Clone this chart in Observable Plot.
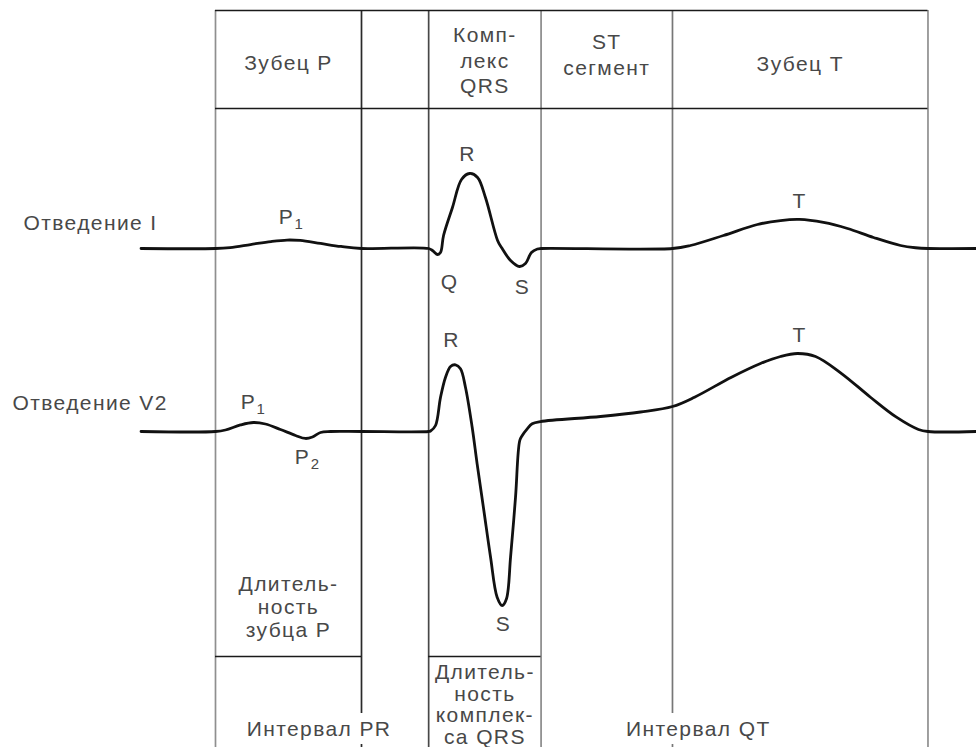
<!DOCTYPE html>
<html>
<head>
<meta charset="utf-8">
<script src="https://cdn.jsdelivr.net/npm/d3@7"></script>
<script src="https://cdn.jsdelivr.net/npm/@observablehq/plot@0.6"></script>
<style>
  html, body { margin: 0; padding: 0; background: #fff; overflow: hidden; }
</style>
</head>
<body>
<div id="chart"></div>
<script>
// ---------------- DATA ----------------
// Leads (row names)
const leadNames = ["Отведение I", "Отведение V2"];

// Table columns (time, ms)
const segmentNames = ["Зубец P", "", "Комп-\nлекс\nQRS", "ST\nсегмент", "Зубец T"];
const segmentBounds = [0, 100, 146, 223, 313, 488];

// Duration boxes (below the traces) and intervals
const durationNames = ["Длитель-\nность\nзубца P", "Длитель-\nность\nкомплек-\nса QRS"];
const durationSegment = [0, 2];
const intervalNames = ["Интервал PR", "Интервал QT"];
const intervalStart = [0, 146];
const intervalEnd = [146, 488];

// Lead I trace: time (ms), amplitude (mV)
const leadI_t = [-51, 0, 10, 24, 38, 49, 58, 72, 86, 100,
  146, 148.6, 152, 154.1, 156.2, 162.3, 168.5, 174, 179.5, 184.9,
  193.2, 195.9, 202.1, 208.2, 212.3, 216.4, 220.5, 223,
  313, 325.3, 347.9, 371.2, 387, 400, 416.4, 432.9, 450.7, 469.2,
  479.5, 488, 521];
const leadI_mv = [0, 0, 0.013, 0.053, 0.093, 0.113, 0.107, 0.067, 0.027, 0,
  0, -0.027, -0.08, -0.053, 0.173, 0.547, 0.92, 1.0, 0.947, 0.68,
  0.107, 0.013, -0.16, -0.24, -0.2, -0.053, -0.007, 0,
  0, 0.04, 0.173, 0.32, 0.373, 0.387, 0.347, 0.267, 0.147, 0.04,
  0.01, 0, 0];

// Lead V2 trace: time (ms), amplitude (mV)
const leadV2_t = [-51, 0, 6.8, 17.1, 26, 34.2, 44.5, 54.8, 61.6, 66.4,
  71.9, 78.8, 100, 146, 147.3, 150.7, 154.1, 157.5, 161, 164.4,
  167.8, 171.2, 175.8, 179.2, 183.8, 188.4, 192.9, 196.4, 199.3, 202.1,
  205.5, 208.4, 210.1, 213.5, 216.9, 222.6, 263.7, 291.1, 313, 328.1,
  353.4, 373.3, 387, 398.6, 411, 428.8, 448.6, 466.4, 481.5, 488,
  521];
const leadV2_mv = [0, 0, 0.02, 0.087, 0.12, 0.1, 0.027, -0.053, -0.093, -0.073,
  -0.013, 0, 0, 0, 0.007, 0.08, 0.453, 0.72, 0.867, 0.889,
  0.836, 0.591, 0.057, -0.431, -1.053, -1.676, -2.209, -2.32, -2.231, -1.676,
  -0.876, -0.12, -0.053, 0.036, 0.103, 0.133, 0.2, 0.26, 0.333, 0.457,
  0.724, 0.907, 1.0, 1.04, 1.0, 0.773, 0.457, 0.191, 0.027, 0,
  0];

// Wave labels
const labelLead = [0, 0, 0, 0, 0, 1, 1, 1, 1, 1];
const labelText = ["P", "R", "Q", "S", "T", "P", "P", "R", "S", "T"];
const labelSub  = ["1", "", "", "", "", "1", "2", "", "", ""];
const labelT    = [48.6, 172.6, 160.3, 210.3, 400, 22.6, 59.6, 161.6, 197.3, 400];
const labelMv   = [0.413, 1.253, -0.453, -0.52, 0.627, 0.387, -0.347, 1.213, -2.573, 1.28];

// ---------------- LAYOUT ----------------
const W = 976, H = 747;
const PX_PER_MS = 1.46, T0_PX = 215;       // time axis: px per ms, px of t=0
const PX_PER_MV = 75, BASE_PX = [248, 431]; // amplitude: px per mV, baseline px of each lead
const yOf = px => (BASE_PX[0] - px) / PX_PER_MV;   // px (from top) -> y value
const tOf = px => (px - T0_PX) / PX_PER_MS;         // px (from left) -> x value
const leadOffset = BASE_PX.map(b => yOf(b));

const FONT = "'Liberation Sans', Arial, Helvetica, sans-serif";
const TEXT_FILL = "#484848";
const FS = 21;

// table geometry (px)
const TOP_PX = 10, HEAD_PX = 108, DUR_PX = 656, GAP_TOP_PX = 713, GAP_BOT_PX = 744;
const vStroke = ["#8f8f8f", "#2a2a2a", "#484848", "#8a8a8a", "#777", "#8f8f8f"];
const vBreak = [false, true, false, false, true, false];
const headerCenterPx = [61, 0, 59, 53, 62];

// Build tables
const trace = (ts, mvs, lead) => ts.map((t, i) => ({t, y: mvs[i] + leadOffset[lead]}));
const traceI = trace(leadI_t, leadI_mv, 0);
const traceV2 = trace(leadV2_t, leadV2_mv, 1);

const vRules = [];
segmentBounds.forEach((t, i) => {
  if (vBreak[i]) {
    vRules.push({t, y1: yOf(TOP_PX), y2: yOf(GAP_TOP_PX), c: vStroke[i]});
    vRules.push({t, y1: yOf(GAP_BOT_PX), y2: yOf(H + 2), c: vStroke[i]});
  } else {
    vRules.push({t, y1: yOf(TOP_PX), y2: yOf(H + 2), c: vStroke[i]});
  }
});
const first = segmentBounds[0], last = segmentBounds[segmentBounds.length - 1];
const hRules = [
  {x1: first, x2: last, y: yOf(TOP_PX)},
  {x1: first, x2: last, y: yOf(HEAD_PX)},
  ...durationSegment.map(s => ({x1: segmentBounds[s], x2: segmentBounds[s + 1], y: yOf(DUR_PX)}))
];

const headers = segmentNames.map((name, i) => ({
  name, t: (segmentBounds[i] + segmentBounds[i + 1]) / 2, y: yOf(headerCenterPx[i])
})).filter(d => d.name);

const durations = durationNames.map((name, i) => ({
  name,
  t: (segmentBounds[durationSegment[i]] + segmentBounds[durationSegment[i] + 1]) / 2,
  y: yOf(i === 0 ? 606 : 704)
}));

const intervalDx = [-3, 20];
const intervals = intervalNames.map((name, i) => ({
  name, t: (intervalStart[i] + intervalEnd[i]) / 2, y: yOf(729)
}));

const leadLabelPx = [[23, 223], [12, 403]];
const leadLabels = leadNames.map((name, i) => ({name, t: tOf(leadLabelPx[i][0]), y: yOf(leadLabelPx[i][1])}));

const waveLabels = labelText.map((text, i) => ({
  text, sub: labelSub[i], t: labelT[i], y: labelMv[i] + leadOffset[labelLead[i]]
}));
const subLabels = waveLabels.filter(d => d.sub);

const textOpts = {fontFamily: FONT, fill: TEXT_FILL, fontSize: FS};

const chart = Plot.plot({
  width: W,
  height: H,
  margin: 0,
  x: {domain: [tOf(0), tOf(W)], axis: null},
  y: {domain: [yOf(H), yOf(0)], axis: null},
  style: "background:#fff;letter-spacing:1.4px;",
  marks: [
    Plot.ruleX(vRules, {x: "t", y1: "y1", y2: "y2", stroke: "c", strokeWidth: 1.7}),
    Plot.ruleY(hRules, {y: "y", x1: "x1", x2: "x2", stroke: "#1a1a1a", strokeWidth: 1.7}),
    Plot.line(traceI, {x: "t", y: "y", curve: "catmull-rom", stroke: "#111", strokeWidth: 2.8}),
    Plot.line(traceV2, {x: "t", y: "y", curve: "catmull-rom", stroke: "#111", strokeWidth: 2.8}),
    Plot.text(headers, {x: "t", y: "y", text: "name", lineHeight: 1.22, ...textOpts}),
    Plot.text(durations.slice(0, 1), {x: "t", y: "y", text: "name", lineHeight: 1.1, ...textOpts}),
    Plot.text(durations.slice(1), {x: "t", y: "y", text: "name", lineHeight: 1.04, ...textOpts}),
    Plot.text(intervals.slice(0, 1), {x: "t", y: "y", text: "name", dx: intervalDx[0], ...textOpts}),
    Plot.text(intervals.slice(1), {x: "t", y: "y", text: "name", dx: intervalDx[1], ...textOpts}),
    Plot.text(leadLabels, {x: "t", y: "y", text: "name", textAnchor: "start", ...textOpts}),
    Plot.text(waveLabels, {x: "t", y: "y", text: "text", ...textOpts}),
    Plot.text(subLabels, {x: "t", y: "y", text: "sub", dx: 13, dy: 7, fontFamily: FONT, fill: TEXT_FILL, fontSize: 15})
  ]
});

document.getElementById("chart").appendChild(chart);
</script>
</body>
</html>
